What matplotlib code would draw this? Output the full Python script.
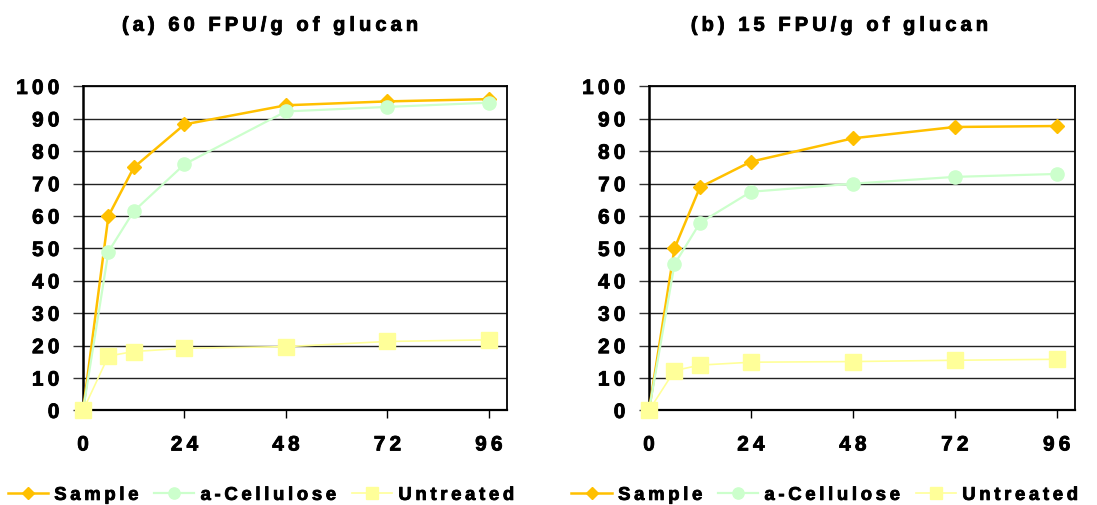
import matplotlib
matplotlib.use("Agg")
import matplotlib.pyplot as plt
from matplotlib.lines import Line2D
import matplotlib.patheffects as pe

plt.rcParams['font.family'] = ['Liberation Sans', 'DejaVu Sans']
plt.rcParams['font.weight'] = 'bold'

hours = [0, 6, 12, 24, 48, 72, 96]
series_names = ["Sample", "a-Cellulose", "Untreated"]

a_sample = [0, 60, 75, 88.3, 94.2, 95.4, 96.1]
a_cellulose = [0, 49, 61.5, 76, 92.3, 93.7, 95]
a_untreated = [0, 16.8, 18.2, 19.2, 19.7, 21.3, 21.8]

b_sample = [0, 50, 68.9, 76.8, 84, 87.5, 87.8]
b_cellulose = [0, 45.1, 57.9, 67.5, 70, 72.1, 73]
b_untreated = [0, 12.3, 14, 14.9, 15.1, 15.5, 15.8]

titles = ["(a) 60 FPU/g of glucan", "(b) 15 FPU/g of glucan"]
xticks = [0, 24, 48, 72, 96]
yticks = list(range(0, 101, 10))

colors = ["#FFC000", "#CCFFCC", "#FFFF99"]
markers = ["D", "o", "s"]
msizes = [7, 9.5, 11]
lws = [1.8, 1.6, 1.2]

THIN = "\u2009"
BOLDER = [pe.withStroke(linewidth=0.6, foreground='black')]


def spaced(s):
    return THIN.join(s)


fig = plt.figure(figsize=(10.97, 5.06), dpi=100)
axes_pos = [[0.0757, 0.1868, 0.3865, 0.6403], [0.5916, 0.1868, 0.3883, 0.6403]]
data = [[a_sample, a_cellulose, a_untreated], [b_sample, b_cellulose, b_untreated]]
title_x = [0.246, 0.765]
legend_x = [0.238, 0.752]

for i in range(2):
    ax = fig.add_axes(axes_pos[i])
    for j, vals in enumerate(data[i]):
        ax.plot(hours, vals, color=colors[j], marker=markers[j], ms=msizes[j],
                lw=lws[j], mec=colors[j], mfc=colors[j], label=series_names[j],
                clip_on=False, zorder=3 + j)
    ax.set_xlim(0, 100.3)
    ax.set_ylim(0, 100)
    ax.set_xticks(xticks)
    ax.set_xticklabels([spaced(str(t)) for t in xticks])
    ax.set_yticks(yticks)
    ax.set_yticklabels([spaced(str(t)) for t in yticks])
    ax.tick_params(axis='y', direction='out', length=7, width=1, color='#333333',
                   pad=10, labelsize=15)
    ax.tick_params(axis='x', direction='out', length=6, width=1, color='black',
                   pad=12, labelsize=15)
    for lab in ax.get_xticklabels() + ax.get_yticklabels():
        lab.set_fontweight('bold')
        lab.set_path_effects(BOLDER)
    ax.yaxis.grid(True, color='#222222', lw=1.0)
    ax.set_axisbelow(True)
    for side, sp in ax.spines.items():
        sp.set_color('black')
        sp.set_linewidth(1.3)
    ax.spines['left'].set_linewidth(1.8)
    ax.spines['bottom'].set_linewidth(1.6)

    fig.text(title_x[i], 0.948, spaced(titles[i]), ha='center', va='center',
             fontsize=14.5, fontweight='bold', path_effects=BOLDER)

    handles = [Line2D([], [], color=colors[j], marker=markers[j],
                      ms=msizes[j] * 0.85, lw=lws[j], mec=colors[j], mfc=colors[j])
               for j in range(3)]
    leg = fig.legend(handles, [spaced(n) for n in series_names], ncol=3, frameon=False,
                     loc='center', bbox_to_anchor=(legend_x[i], 0.019),
                     prop={'size': 13.3, 'weight': 'bold'}, handlelength=2.2,
                     handletextpad=0.33, columnspacing=0.83, borderpad=0,
                     borderaxespad=0)
    for t in leg.get_texts():
        t.set_path_effects(BOLDER)

fig.savefig("out.png", dpi=100)
